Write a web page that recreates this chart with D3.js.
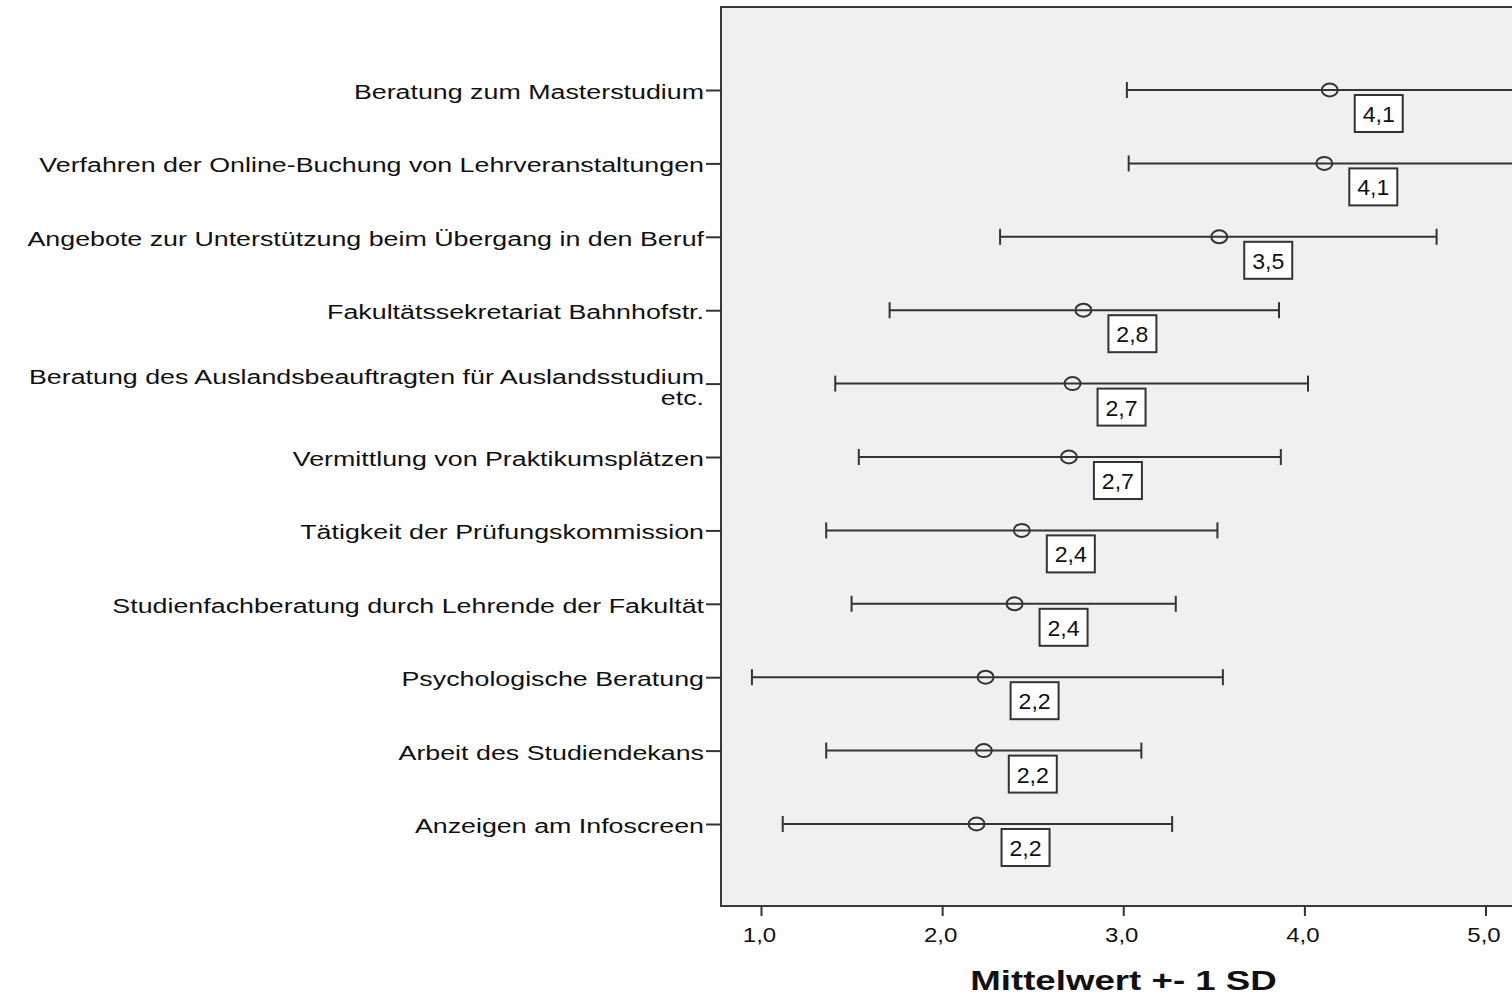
<!DOCTYPE html>
<html><head><meta charset="utf-8">
<script src="https://cdn.jsdelivr.net/npm/d3@7"></script>
<style>
html,body{margin:0;padding:0;background:#fff;}
svg{display:block;}
text{font-family:"Liberation Sans",Arial,sans-serif;fill:#111;}
</style></head>
<body>
<svg id="chart" width="1512" height="997"></svg>
<script>
const categories = [
  ["Beratung zum Masterstudium"],
  ["Verfahren der Online-Buchung von Lehrveranstaltungen"],
  ["Angebote zur Unterstützung beim Übergang in den Beruf"],
  ["Fakultätssekretariat Bahnhofstr."],
  ["Beratung des Auslandsbeauftragten für Auslandsstudium", "etc."],
  ["Vermittlung von Praktikumsplätzen"],
  ["Tätigkeit der Prüfungskommission"],
  ["Studienfachberatung durch Lehrende der Fakultät"],
  ["Psychologische Beratung"],
  ["Arbeit des Studiendekans"],
  ["Anzeigen am Infoscreen"]
];
const means = [4.14, 4.11, 3.53, 2.78, 2.72, 2.70, 2.44, 2.40, 2.24, 2.23, 2.19];
const lower = [3.02, 3.03, 2.32, 1.71, 1.41, 1.54, 1.36, 1.50, 0.95, 1.36, 1.12];
const upper = [5.26, 5.19, 4.73, 3.86, 4.02, 3.87, 3.52, 3.29, 3.55, 3.10, 3.27];
const meanLabels = ["4,1", "4,1", "3,5", "2,8", "2,7", "2,7", "2,4", "2,4", "2,2", "2,2", "2,2"];
const xTicks = [1, 2, 3, 4, 5];
const xTitle = "Mittelwert +- 1 SD";

const svg = d3.select("#chart");
const frame = {left: 721, top: 7, right: 1526, bottom: 906};
const x = d3.scaleLinear().domain([1, 5]).range([761, 1485.5]);
const keys = categories.map((c, i) => i);
const y = d3.scalePoint().domain(keys).range([90, 824]);

svg.append("rect")
  .attr("x", frame.left).attr("y", frame.top)
  .attr("width", frame.right - frame.left).attr("height", frame.bottom - frame.top)
  .attr("fill", "#f0f0f0").attr("stroke", "#3a3a3a").attr("stroke-width", 2);

// x axis
const xAxis = svg.append("g").attr("transform", `translate(0,${frame.bottom})`)
  .call(d3.axisBottom(x).tickValues(xTicks).tickSize(10)
    .tickFormat(d => d3.format(".1f")(d).replace(".", ",")));
xAxis.select(".domain").remove();
xAxis.selectAll(".tick line").attr("stroke", "#333").attr("stroke-width", 2);
xAxis.selectAll(".tick text")
  .attr("font-size", 20).attr("fill", "#111")
  .attr("font-family", "Liberation Sans, Arial, sans-serif")
  .attr("dy", null).attr("y", 36)
  .attr("transform", "translate(-2,0) scale(1.2,1)");

// y axis
const yAxis = svg.append("g").attr("transform", `translate(${frame.left},0)`)
  .call(d3.axisLeft(y).tickSize(15).tickFormat(""));
yAxis.select(".domain").remove();
yAxis.selectAll(".tick line").attr("stroke", "#333").attr("stroke-width", 2);

// category labels (horizontally stretched like the original)
categories.forEach((lines, i) => {
  const n = lines.length;
  const t = svg.append("text")
    .attr("transform", `translate(704,0) scale(1.375,1)`)
    .attr("text-anchor", "end").attr("font-size", 19.5);
  lines.forEach((ln, j) => {
    const off = n > 1 ? j * 21 : 9;
    t.append("tspan").attr("x", 0).attr("y", y(i) + off).text(ln);
  });
});

// error bars
const g = svg.append("g");
keys.forEach(i => {
  const yy = y(i);
  g.append("line").attr("x1", x(lower[i])).attr("x2", x(upper[i]))
    .attr("y1", yy).attr("y2", yy).attr("stroke", "#333").attr("stroke-width", 2);
  [lower[i], upper[i]].forEach(v => {
    g.append("line").attr("x1", x(v)).attr("x2", x(v))
      .attr("y1", yy - 8).attr("y2", yy + 8).attr("stroke", "#333").attr("stroke-width", 2);
  });
  g.append("ellipse").attr("cx", x(means[i])).attr("cy", yy)
    .attr("rx", 8).attr("ry", 6.5).attr("fill", "none")
    .attr("stroke", "#333").attr("stroke-width", 2);
  const bx = x(means[i]) + 49;
  g.append("rect").attr("x", bx - 24).attr("y", yy + 5).attr("width", 48).attr("height", 37)
    .attr("fill", "#fff").attr("stroke", "#333").attr("stroke-width", 2);
  g.append("text").attr("transform", `translate(${bx},0) scale(1.05,1)`)
    .attr("y", yy + 32).attr("text-anchor", "middle")
    .attr("font-size", 22).text(meanLabels[i]);
});

svg.append("text")
  .attr("transform", `translate(${(frame.left + frame.right) / 2},0) scale(1.31,1)`)
  .attr("y", 990)
  .attr("text-anchor", "middle").attr("font-size", 28).attr("font-weight", "bold")
  .text(xTitle);
</script>
</body></html>
